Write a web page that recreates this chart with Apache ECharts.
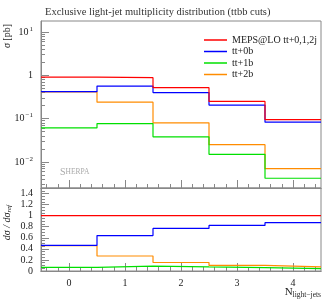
<!DOCTYPE html>
<html>
<head>
<meta charset="utf-8">
<script src="https://cdn.jsdelivr.net/npm/echarts@6/dist/echarts.min.js"></script>
<style>html,body{margin:0;padding:0;background:#fff;}#c{width:332px;height:300px;}</style>
</head>
<body>
<div id="c"></div>
<script>
// ---- data ----
const bins = [0, 1, 2, 3, 4];
const binEdges = [-0.5, 0.5, 1.5, 2.5, 3.5, 4.5];
const seriesNames = ['MEPS@LO tt+0,1,2j', 'tt+0b', 'tt+1b', 'tt+2b'];
const meps = [0.91, 0.885, 0.52, 0.25, 0.095];
const tt0b = [0.42, 0.566, 0.40, 0.206, 0.083];
const tt1b = [0.061, 0.077, 0.038, 0.015, 0.0042];
const tt2b = [0.415, 0.24, 0.08, 0.025, 0.007];
const mainMajorTicks = [0.01, 0.1, 1, 10];
const ratioTicks = [0, 0.2, 0.4, 0.6, 0.8, 1, 1.2, 1.4];
const xTicks = [0, 1, 2, 3, 4];

const colors = ['#ff0000', '#0000ff', '#00e000', '#ff8c00'];
const FONT = 'Liberation Serif';
const AX = '#888';

// minor ticks
const logMinor = [];
for (let e = -3; e <= 1; e++) for (let k = 2; k <= 9; k++) logMinor.push(+(k * Math.pow(10, e)).toPrecision(3));
const ratioMinor = [];
for (let i = 0; i <= 30; i++) { const v = +(i * 0.05).toFixed(2); if (Math.abs(v * 5 - Math.round(v * 5)) > 1e-6) ratioMinor.push(v); }
const xMinor = [];
for (let i = -2; i <= 22; i++) { const v = +(i * 0.2).toFixed(1); if (Math.abs(v - Math.round(v)) > 1e-6) xMinor.push(v); }

const all = [meps, tt0b, tt1b, tt2b];
function stepData(vals) { return binEdges.map((e, i) => [e, vals[Math.min(i, vals.length - 1)]]); }
function ratio(vals) { return vals.map((v, i) => v / meps[i]); }

const chart = echarts.init(document.getElementById('c'), null, {renderer: 'canvas'});

function xAxisBase(grid, ticks, len, labels) {
  return {
    type: 'value', gridIndex: grid, min: -0.5, max: 4.5, position: 'bottom',
    axisLine: {show: true, onZero: false, lineStyle: {color: AX, width: 1}},
    axisTick: {show: true, inside: true, length: len, customValues: ticks, lineStyle: {color: AX}},
    axisLabel: labels ? {show: true, customValues: xTicks, fontFamily: FONT, fontSize: 10, color: '#222', margin: 7} : {show: false},
    splitLine: {show: false}
  };
}

const option = {
  animation: false,
  title: {
    text: 'Exclusive light-jet multiplicity distribution (ttbb cuts)',
    left: 40, top: 2,
    textStyle: {fontFamily: FONT, fontSize: 10.5, fontWeight: 'normal', color: '#333'}
  },
  legend: {
    data: seriesNames.map((n, i) => ({name: n, icon: 'rect'})),
    orient: 'vertical', left: 199, top: 30, itemWidth: 23, itemHeight: 1.5, itemGap: 1.5,
    textStyle: {fontFamily: FONT, fontSize: 10, color: '#222', padding: [0, 0, 0, 0]},
    selectedMode: false
  },
  grid: [
    {left: 41, right: 11, top: 21, height: 167, show: true, borderColor: AX, borderWidth: 1, outerBoundsMode: 'none'},
    {left: 41, right: 11, top: 188, height: 83, show: true, borderColor: AX, borderWidth: 1, outerBoundsMode: 'none'}
  ],
  xAxis: [
    xAxisBase(0, xTicks, 8, false),
    xAxisBase(0, xMinor, 4, false),
    xAxisBase(1, xTicks, 8, true),
    xAxisBase(1, xMinor, 4, false)
  ],
  yAxis: [
    {
      type: 'log', logBase: 10, gridIndex: 0, min: 0.0025, max: 18, position: 'left',
      axisLine: {show: true, onZero: false, lineStyle: {color: AX}},
      axisTick: {show: true, inside: true, length: 8, customValues: mainMajorTicks, lineStyle: {color: AX}},
      axisLabel: {
        show: true, customValues: mainMajorTicks, fontFamily: FONT, fontSize: 10, color: '#222', margin: 8,
        formatter: function (v) {
          const e = Math.round(Math.log10(v));
          if (e === 0) return '{b|1}';
          return '{b|10}{s|' + String(e).replace('-', '−') + '}';
        },
        rich: {
          b: {fontFamily: FONT, fontSize: 10, color: '#222'},
          s: {fontFamily: FONT, fontSize: 7, color: '#222', verticalAlign: 'top', padding: [0, 0, 6, 1]}
        }
      },
      splitLine: {show: false}
    },
    {
      type: 'log', logBase: 10, gridIndex: 0, min: 0.0025, max: 18, position: 'left',
      axisLine: {show: false, onZero: false},
      axisTick: {show: true, inside: true, length: 4, customValues: logMinor, lineStyle: {color: AX}},
      axisLabel: {show: false}, splitLine: {show: false}
    },
    {
      type: 'value', gridIndex: 1, min: 0, max: 1.5, position: 'left',
      axisLine: {show: true, onZero: false, lineStyle: {color: AX}},
      axisTick: {show: true, inside: true, length: 8, customValues: ratioTicks, lineStyle: {color: AX}},
      axisLabel: {show: true, customValues: ratioTicks, fontFamily: FONT, fontSize: 10, color: '#222', margin: 8},
      splitLine: {show: false}
    },
    {
      type: 'value', gridIndex: 1, min: 0, max: 1.5, position: 'left',
      axisLine: {show: false, onZero: false},
      axisTick: {show: true, inside: true, length: 4, customValues: ratioMinor, lineStyle: {color: AX}},
      axisLabel: {show: false}, splitLine: {show: false}
    }
  ],
  series: [],
  graphic: [
    {
      type: 'text', left: 2, top: 24, rotation: Math.PI / 2,
      style: {text: '{i|σ} [pb]', fill: '#222', font: '10px ' + FONT,
        rich: {i: {fontFamily: FONT, fontStyle: 'italic', fontSize: 10, fill: '#222'}}}
    },
    {
      type: 'text', left: 2, top: 205, rotation: Math.PI / 2,
      style: {text: '{i|dσ / dσ}{s|ref}', fill: '#222',
        rich: {i: {fontFamily: FONT, fontStyle: 'italic', fontSize: 10, fill: '#222'},
               s: {fontFamily: FONT, fontStyle: 'italic', fontSize: 7, fill: '#222', verticalAlign: 'bottom', padding: [4, 0, 0, 0]}}}
    },
    {
      type: 'text', right: 11, top: 287,
      style: {text: '{n|N}{s|light−jets}', fill: '#222',
        rich: {n: {fontFamily: FONT, fontSize: 11, fill: '#222'},
               s: {fontFamily: FONT, fontSize: 7.5, fill: '#222', padding: [5, 0, 0, 0]}}}
    },
    {
      type: 'text', left: 60, top: 167,
      style: {text: '{a|S}{b|HERPA}', fill: '#aaa',
        rich: {a: {fontFamily: FONT, fontSize: 10, fill: '#aaa'}, b: {fontFamily: FONT, fontSize: 7.5, fill: '#aaa'}}}
    }
  ]
};

all.forEach((vals, i) => {
  option.series.push({
    name: seriesNames[i], type: 'line', xAxisIndex: 0, yAxisIndex: 0, step: 'end',
    data: stepData(vals), symbol: 'none', lineStyle: {color: colors[i], width: 1.2}, itemStyle: {color: colors[i]}, z: 10 - i
  });
  option.series.push({
    name: seriesNames[i], type: 'line', xAxisIndex: 2, yAxisIndex: 2, step: 'end',
    data: stepData(ratio(vals)), symbol: 'none', lineStyle: {color: colors[i], width: 1.2}, itemStyle: {color: colors[i]}, z: 10 - i
  });
});

chart.setOption(option);
</script>
</body>
</html>
